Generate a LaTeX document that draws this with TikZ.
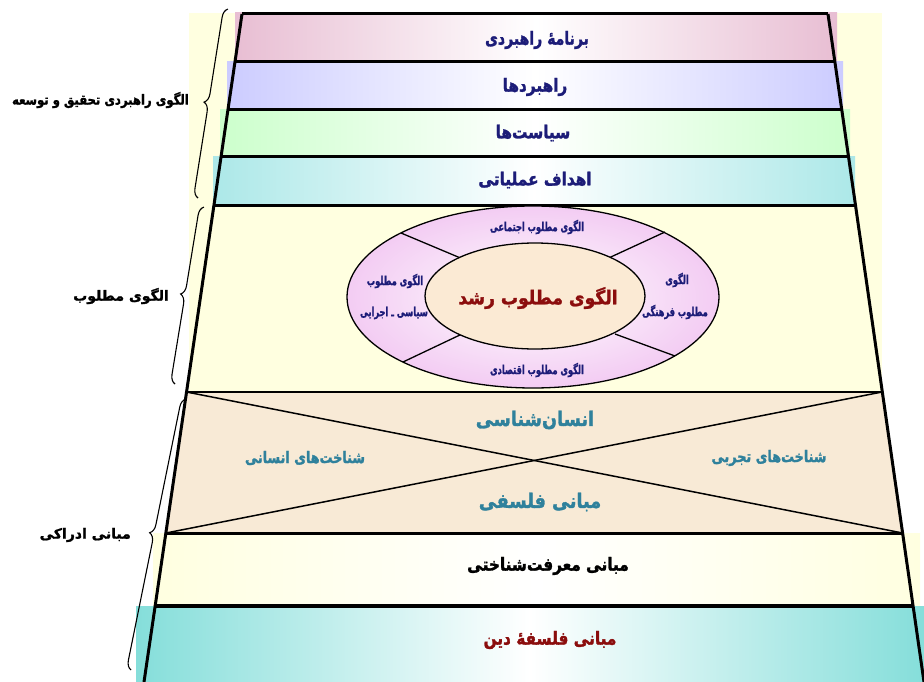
\documentclass[tikz,border=0pt]{standalone}
\usepackage{fontspec}
\usetikzlibrary{decorations.pathreplacing}
\TeXXeTstate=1
\newfontfamily\fafont[Script=Arabic,BoldFeatures={FakeBold=1.5}]{DejaVu Sans}
\newfontfamily\fabandA[Script=Arabic,FakeStretch=0.85,BoldFeatures={FakeBold=1.5}]{DejaVu Sans}
\newfontfamily\fabandB[Script=Arabic,FakeStretch=0.9,BoldFeatures={FakeBold=1.5}]{DejaVu Sans}
\newfontfamily\fabandC[Script=Arabic,FakeStretch=0.88,BoldFeatures={FakeBold=1.5}]{DejaVu Sans}
\newfontfamily\faside[Script=Arabic,FakeStretch=0.8,BoldFeatures={FakeBold=1.5}]{DejaVu Sans}
\newfontfamily\facond[Script=Arabic,FakeStretch=0.66,BoldFeatures={FakeBold=1.2}]{DejaVu Sans}
\newfontfamily\falabel[Script=Arabic,FakeStretch=0.83,BoldFeatures={FakeBold=1.5}]{DejaVu Sans}
\newfontfamily\fatight[Script=Arabic,FakeStretch=0.78,BoldFeatures={FakeBold=1.5}]{DejaVu Sans}

\definecolor{navytxt}{HTML}{1C1C78}
\definecolor{tealtxt}{HTML}{2F819C}
\definecolor{redtxt}{HTML}{8B0D0D}
\definecolor{bandpink}{HTML}{E8BED3}
\definecolor{bandblue}{HTML}{CCCCFF}
\definecolor{bandgreen}{HTML}{CCFFCC}
\definecolor{bandteal}{HTML}{ACE8E8}
\definecolor{paleyellow}{HTML}{FFFFE0}
\definecolor{beige}{HTML}{F8EAD6}
\definecolor{deepteal}{HTML}{85DEDA}
\definecolor{ringpink}{HTML}{F3CCF3}
\definecolor{corepeach}{HTML}{FBEAD4}

\newcommand{\rtl}[1]{\beginR #1\endR}

\begin{document}
\begin{tikzpicture}[x=1pt,y=-1pt,
  edge/.style={line width=3pt},
  thinedge/.style={line width=1.8pt},
  cross/.style={line width=1.5pt},
  bandtext/.style={font=\fabandA\bfseries\fontsize{18}{20}\selectfont, text=navytxt, inner sep=0pt},
  xtext/.style={font=\fabandC\bfseries\fontsize{20}{22}\selectfont, text=tealtxt, inner sep=0pt},
  sidetxt/.style={font=\faside\bfseries\fontsize{16}{18}\selectfont, text=tealtxt, inner sep=0pt},
  sector/.style={font=\facond\bfseries\fontsize{12.5}{14}\selectfont, text=navytxt, inner sep=0pt},
  leftlabel/.style={font=\fafont\bfseries\fontsize{14}{16}\selectfont, text=black, inner sep=0pt, anchor=east},
  brace/.style={decorate, decoration={brace, amplitude=9pt, aspect=0.5}, line width=1.1pt}]
\useasboundingbox (0,0) rectangle (924,682);

% corners of the stepped outline
\coordinate (l0) at (242,14);   \coordinate (r0) at (828,14);
\coordinate (l1) at (235,62);   \coordinate (r1) at (835,62);
\coordinate (l2) at (228,110);  \coordinate (r2) at (842,110);
\coordinate (l3) at (221,157);  \coordinate (r3) at (848.5,157);
\coordinate (l4) at (214,205);  \coordinate (r4) at (855,205);
\coordinate (l5) at (186.5,392);\coordinate (r5) at (882,392);
\coordinate (l6) at (166,533);  \coordinate (r6) at (902.5,533);
\coordinate (l7) at (155,606);  \coordinate (r7) at (913,606);
\coordinate (l8) at (144,682);  \coordinate (r8) at (924,682);

% band fills
\fill[paleyellow] (189,13) rectangle (882,392);
\shade[left color=bandpink, right color=bandpink, middle color=white] (235,13) rectangle (837,62);
\shade[left color=bandblue, right color=bandblue, middle color=white] (227,62) rectangle (843,110);
\shade[left color=bandgreen, right color=bandgreen, middle color=white] (220,110) rectangle (850,157);
\shade[left color=bandteal, right color=bandteal, middle color=white] (213,157) rectangle (855,205);
\fill[beige] (l5) -- (r5) -- (r6) -- (l6) -- cycle;
\shade[left color=paleyellow, right color=paleyellow, middle color=white] (153,533) rectangle (920,606);
\shade[left color=deepteal, right color=deepteal, middle color=white] (136,606) rectangle (924,682);

% outline and band boundaries
\draw[cross] (l5) -- (r6);
\draw[cross] (r5) -- (l6);
\draw[edge] (l0) -- (l8);
\draw[edge] (r0) -- (r8);
\foreach \i in {0,...,4} { \draw[edge] (l\i) -- (r\i); }
\draw[thinedge] (l5) -- (r5);
\draw[edge] (l6) -- (r6);
\draw[line width=3.5pt] (l7) -- (r7);

% ring of desired patterns
\coordinate (oc) at (533,297);
\coordinate (ic) at (535,296);
\shade[inner color=white, outer color=ringpink] (oc) ellipse [x radius=186pt, y radius=91pt];
\draw[line width=1.3pt] (oc) ellipse [x radius=186pt, y radius=91pt];
\coordinate (d1o) at (401,233); \coordinate (d1i) at (470,262);
\coordinate (d2o) at (665,232); \coordinate (d2i) at (600,262);
\coordinate (d3o) at (403,362); \coordinate (d3i) at (462,334);
\coordinate (d4o) at (675,356); \coordinate (d4i) at (615,334);
\foreach \k in {1,...,4} { \draw[line width=1.3pt] (d\k o) -- (d\k i); }
\filldraw[fill=corepeach, line width=1.3pt] (ic) ellipse [x radius=110pt, y radius=53pt];

% band titles
\node[bandtext, font=\fatight\bfseries\fontsize{18}{20}\selectfont] (t1) at (537,40) {\rtl{برنامه^^^^0654 راهبردی}};
\node[bandtext] (t2) at (535,87)  {\rtl{راهبردها}};
\node[bandtext] (t3) at (533,133) {\rtl{سیاست^^^^200cها}};
\node[bandtext] (t4) at (535,180) {\rtl{اهداف عملیاتی}};

% ellipse labels
\node[font=\fabandB\bfseries\fontsize{19}{21}\selectfont, text=redtxt, inner sep=0pt] (core) at (538,298) {\rtl{الگوی مطلوب رشد}};
\node[sector] (s1) at (537,227) {\rtl{الگوی مطلوب اجتماعی}};
\node[sector] (s2a) at (677,280) {\rtl{الگوی}};
\node[sector] (s2b) at (675,312) {\rtl{مطلوب فرهنگی}};
\node[sector] (s3a) at (395,281) {\rtl{الگوی مطلوب}};
\node[sector] (s3b) at (394,313) {\rtl{سیاسی ـ اجرایی}};
\node[sector] (s4) at (537,370) {\rtl{الگوی مطلوب اقتصادی}};

% foundations
\node[xtext] (x1) at (535,420) {\rtl{انسان^^^^200cشناسی}};
\node[xtext] (x2) at (540,502) {\rtl{مبانی فلسفی}};
\node[sidetxt] (x3) at (305,458) {\rtl{شناخت^^^^200cهای انسانی}};
\node[sidetxt] (x4) at (769,458) {\rtl{شناخت^^^^200cهای تجربی}};
\node[bandtext, text=black] (t5) at (548,566) {\rtl{مبانی معرفت^^^^200cشناختی}};
\node[bandtext, text=redtxt] (t6) at (550,640) {\rtl{مبانی فلسفه^^^^0654 دین}};

% grouping braces and their labels
\coordinate (b1s) at (198,198); \coordinate (b1e) at (228,9);
\coordinate (b2s) at (175,384); \coordinate (b2e) at (204,207);
\coordinate (b3s) at (131,670); \coordinate (b3e) at (186,399);
\draw[brace] (b1s) -- (b1e);
\draw[brace] (b2s) -- (b2e);
\draw[brace] (b3s) -- (b3e);
\node[leftlabel, font=\falabel\bfseries\fontsize{14}{16}\selectfont] (g1) at (189,100) {\rtl{الگوی راهبردی تحقیق و توسعه}};
\node[leftlabel] (g2) at (169,296) {\rtl{الگوی مطلوب}};
\node[leftlabel] (g3) at (131,535) {\rtl{مبانی ادراکی}};
\end{tikzpicture}
\end{document}
